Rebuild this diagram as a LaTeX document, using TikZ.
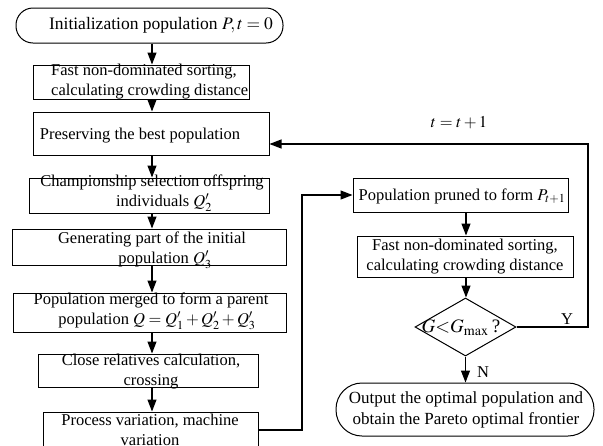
\documentclass[tikz,border=0pt]{standalone}
\usepackage{mathptmx}
\usepackage{fontspec}
\setmainfont{Liberation Serif}
\usetikzlibrary{arrows.meta,shapes.geometric}
\begin{document}
\begin{tikzpicture}[x=1pt,y=-1pt,
 frame/.style={draw,line width=1pt,inner sep=0pt},
 txt/.style={inner sep=0pt,align=center,font=\fontsize{16.5}{20}\selectfont},
 arr/.style={line width=1.2pt,-{Triangle[length=12pt,width=9pt]}},
 ln/.style={line width=1.2pt}]
\fill[white] (0,0) rectangle (603,445);
\path[use as bounding box,clip] (0,0) rectangle (603,445);
% left column frames
\node[frame,rounded corners=17pt,minimum width=267pt,minimum height=35pt] (s) at (149.5,25.5) {};
\node[frame,minimum width=216pt,minimum height=34pt] (b2) at (141,82) {};
\node[frame,minimum width=236pt,minimum height=43pt] (b3) at (151,133.5) {};
\node[frame,minimum width=240pt,minimum height=35pt] (b4) at (149,195.5) {};
\node[frame,minimum width=274pt,minimum height=36pt] (b5) at (149,247) {};
\node[frame,minimum width=273pt,minimum height=39pt] (b6) at (149.5,312.5) {};
\node[frame,minimum width=220pt,minimum height=33pt] (b7) at (148,370.5) {};
\node[frame,minimum width=215pt,minimum height=58pt] (b8) at (150.5,441) {};
% right column frames
\node[frame,minimum width=215pt,minimum height=34pt] (pr) at (460.5,195) {};
\node[frame,minimum width=216pt,minimum height=41pt] (f2) at (465,256.5) {};
\node[frame,diamond,minimum width=101pt,minimum height=58pt] (dia) at (465.5,327) {};
\node[frame,rounded corners=26pt,minimum width=258pt,minimum height=53pt] (en) at (465,409.5) {};
% texts
\node[txt,font=\fontsize{17.5}{20}\selectfont] (ts) at (161,25.5) {Initialization population $P,t=0$};
\node[txt,align=left,anchor=west] (t2) at (51,82) {Fast non-dominated sorting,\\calculating crowding distance};
\node[txt] (t3) at (140,136) {Preserving the best population};
\node[txt] (t4) at (152,193) {Championship selection offspring\\\hspace*{24pt}individuals $Q_2'$};
\node[txt] (t5) at (152,250) {Generating part of the initial\\\hspace*{26pt}population $Q_3'$};
\node[txt] (t6) at (151,311) {Population merged to form a parent\\\hspace*{12pt}population $Q=Q_1'+Q_2'+Q_3'$};
\node[txt] (t7) at (151,372) {Close relatives calculation,\\crossing};
\node[txt] (t8) at (150,430) {Process variation, machine\\variation};
\node[txt] (tp) at (462,196) {Population pruned to form $P_{t+1}$};
\node[txt] (tf) at (465,257) {Fast non-dominated sorting,\\calculating crowding distance};
\node[txt,font=\fontsize{19}{22}\selectfont] (td) at (461,328) {$G{<}G_{\max}$\,?};
\node[txt,font=\fontsize{17}{21}\selectfont] (te) at (466,410) {Output the optimal population and\\obtain the Pareto optimal frontier};
\node[txt] (lt) at (459,123) {$t=t+1$};
\node[txt] (ly) at (567,319) {Y};
\node[txt] (lnn) at (483,372) {N};
% connectors
\coordinate (cx) at (152,0);
\draw[arr] (s.south -| cx) -- (b2.north -| cx);
\draw[arr] (b2.south -| cx) -- (b3.north -| cx);
\draw[arr] (b3.south -| cx) -- (b4.north -| cx);
\draw[arr] (b4.south -| cx) -- (b5.north -| cx);
\draw[arr] (b5.south -| cx) -- (b6.north -| cx);
\draw[arr] (b6.south -| cx) -- (b7.north -| cx);
\draw[arr] (b7.south -| cx) -- (b8.north -| cx);
\coordinate (rx) at (466,0);
\draw[arr] (pr.south -| rx) -- (f2.north -| rx);
\draw[arr] (f2.south -| rx) -- (dia.north -| rx);
\draw[arr] (dia.south) -- (en.north -| dia.south);
\coordinate (la) at (302,430);
\draw[arr] (b8.east |- la) -- (la) |- (pr.west);
\coordinate (yc) at (588,144);
\draw[arr] (dia.east) -| (yc) -- (b3.east |- yc);
\end{tikzpicture}
\end{document}
